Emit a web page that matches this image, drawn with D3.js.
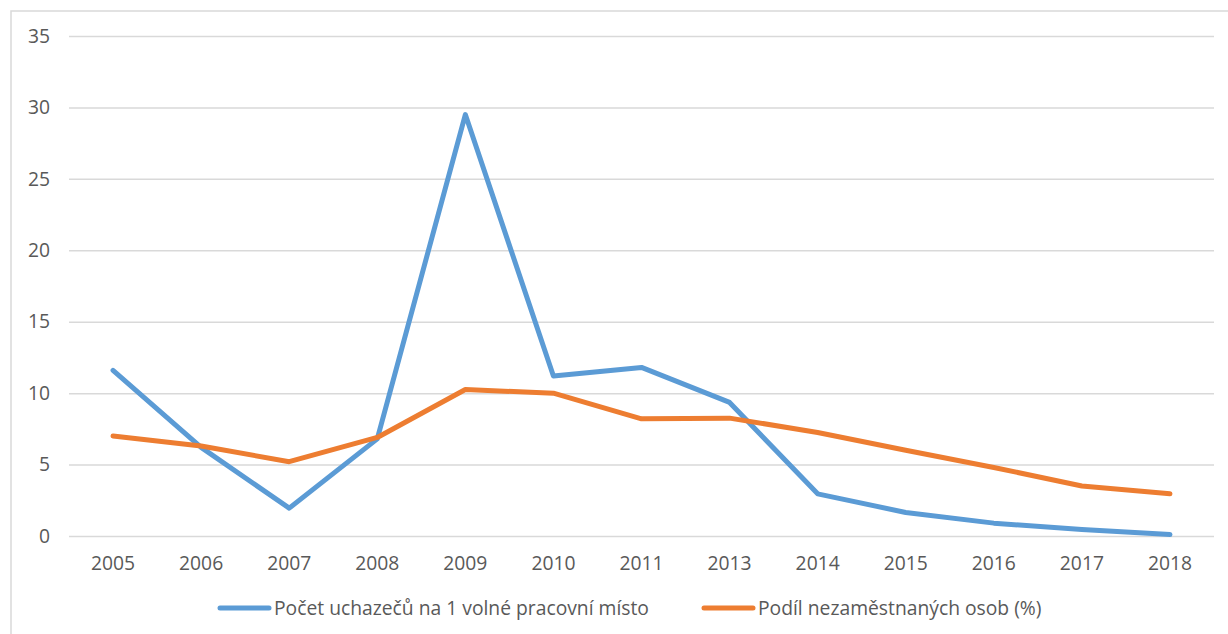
<!DOCTYPE html>
<html>
<head>
<meta charset="utf-8">
<script src="https://cdn.jsdelivr.net/npm/d3@7"></script>
<style>
	body { margin: 0; background: #fff; }
	svg text { font-family: "Open Sans", sans-serif; fill: #595959; }
</style>
</head>
<body>
<svg id="chart" width="1228" height="634"></svg>
<script>
// Data.
var years = ['2005', '2006', '2007', '2008', '2009', '2010', '2011', '2013', '2014', '2015', '2016', '2017', '2018'];
var uchazeci = [11.6, 6.2, 1.95, 6.8, 29.5, 11.2, 11.8, 9.35, 2.95, 1.65, 0.9, 0.45, 0.1];
var nezamestnani = [7.0, 6.3, 5.2, 6.9, 10.25, 10.0, 8.2, 8.25, 7.25, 6.0, 4.8, 3.5, 2.95];
var y_ticks = [0, 5, 10, 15, 20, 25, 30, 35];
var series_names = ['Počet uchazečů na 1 volné pracovní místo', 'Podíl nezaměstnaných osob (%)'];
var series_colors = ['#5b9bd5', '#ed7d31'];

var plot = { left: 69, right: 1214, top: 36, bottom: 536 };
var font_size = '19.3px';

var svg = d3.select('#chart');

// Chart area border (only top and left edges fall inside the picture).
svg.append('rect')
	.attr('x', 11).attr('y', 11)
	.attr('width', 1300).attr('height', 700)
	.style('fill', 'none')
	.style('stroke', '#d9d9d9')
	.style('stroke-width', 1.5);

var x = d3.scaleBand().domain(years).range([plot.left, plot.right]);
var y = d3.scaleLinear().domain([0, 35]).range([plot.bottom, plot.top]);

// Gridlines + y labels.
var yAxis = svg.append('g')
	.attr('transform', 'translate(' + plot.left + ',0)')
	.call(d3.axisLeft(y).tickValues(y_ticks).tickSize(-(plot.right - plot.left)).tickPadding(19));
yAxis.select('.domain').remove();
yAxis.selectAll('line').style('stroke', '#d9d9d9').style('stroke-width', 1.5);
yAxis.selectAll('text').style('font-size', font_size).style('fill', '#595959');

// X labels.
var xAxis = svg.append('g')
	.attr('transform', 'translate(0,' + plot.bottom + ')')
	.call(d3.axisBottom(x).tickSize(0).tickPadding(20));
xAxis.select('.domain').remove();
xAxis.selectAll('text').style('font-size', font_size).style('fill', '#595959');

var line = d3.line()
	.x((d, i) => x(years[i]) + x.bandwidth() / 2)
	.y(d => y(d));

[uchazeci, nezamestnani].forEach(function(vals, k) {
	svg.append('path')
		.datum(vals)
		.attr('d', line)
		.style('fill', 'none')
		.style('stroke', series_colors[k])
		.style('stroke-width', 5)
		.style('stroke-linejoin', 'round')
		.style('stroke-linecap', 'round');
});

// Legend.
var legend_x = [220, 704];
var legend = svg.append('g').selectAll('g')
	.data(series_names)
	.enter().append('g')
	.attr('transform', (d, i) => 'translate(' + legend_x[i] + ',608)');
legend.append('line')
	.attr('x1', 0).attr('x2', 49)
	.style('stroke', (d, i) => series_colors[i])
	.style('stroke-width', 5)
	.style('stroke-linecap', 'round');
legend.append('text')
	.attr('x', 54)
	.attr('dy', '0.35em')
	.style('font-size', font_size)
	.text(d => d);
</script>
</body>
</html>
